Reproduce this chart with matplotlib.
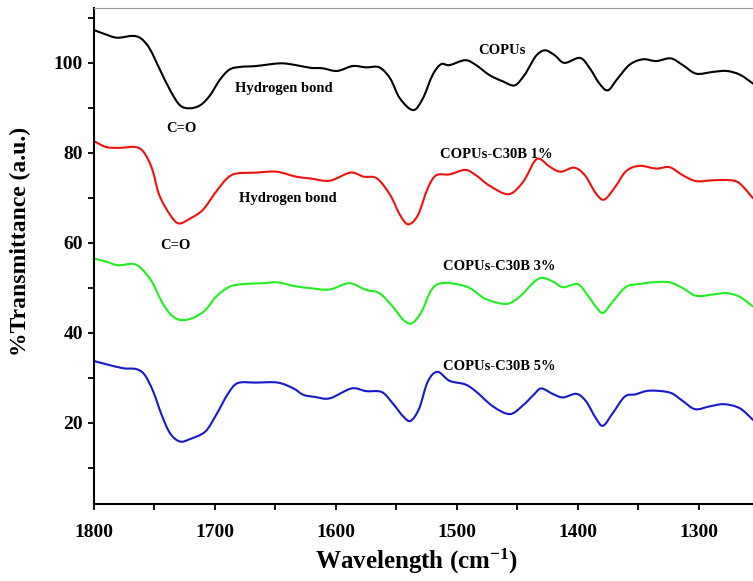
# FTIR spectra of COPUs and COPUs-C30B films
import numpy as np
import matplotlib
matplotlib.use("Agg")
import matplotlib.pyplot as plt
from matplotlib.path import Path
from matplotlib.patches import PathPatch
from matplotlib.ticker import MultipleLocator

plt.rcParams["font.family"] = ["Liberation Serif", "DejaVu Serif"]
plt.rcParams["font.weight"] = "bold"
plt.rcParams["mathtext.fontset"] = "custom"
plt.rcParams["mathtext.rm"] = "Liberation Serif:bold"
plt.rcParams["mathtext.it"] = "Liberation Serif:bold"
plt.rcParams["mathtext.bf"] = "Liberation Serif:bold"

# values (wavenumber cm-1, % transmittance)
wn_copus = [1800, 1792, 1781, 1768, 1761, 1754, 1746, 1737, 1729, 1721, 1712, 1704,
            1696, 1688, 1679, 1666, 1646, 1633, 1621, 1611, 1599, 1586, 1575, 1564,
            1555, 1547, 1536, 1528, 1520, 1513, 1506, 1493, 1484, 1473, 1462, 1452,
            1444, 1440, 1434, 1427, 1419, 1411, 1398, 1390, 1382, 1375, 1367, 1357,
            1346, 1335, 1323, 1313, 1302, 1288, 1277, 1266, 1255]
tr_copus = [107.3, 106.5, 105.6, 106.0, 105.4, 103.2, 98.8, 93.9, 90.6, 89.9, 90.6, 92.8,
            96.2, 98.5, 99.1, 99.3, 99.9, 99.5, 98.9, 98.8, 98.2, 99.3, 99.0, 99.0,
            96.5, 92.1, 89.5, 92.1, 97.3, 99.7, 99.5, 100.6, 99.5, 97.3, 95.9, 95.0,
            97.3, 99.1, 101.7, 102.8, 101.7, 100.0, 101.1, 98.8, 95.4, 93.9, 96.5, 99.6,
            100.8, 100.4, 101.0, 99.5, 97.6, 98.0, 98.2, 97.4, 95.4]

wn_c1 = [1800, 1790, 1779, 1766, 1759, 1752, 1746, 1737, 1730, 1721, 1710, 1700,
         1690, 1682, 1666, 1649, 1633, 1621, 1605, 1588, 1577, 1566, 1555, 1547,
         1540, 1532, 1524, 1517, 1506, 1493, 1484, 1473, 1457, 1445, 1436, 1431,
         1423, 1414, 1403, 1394, 1385, 1378, 1369, 1360, 1349, 1335, 1324, 1313,
         1302, 1288, 1274, 1266, 1255]
tr_c1 = [82.6, 81.3, 81.1, 81.3, 80.2, 76.5, 70.6, 66.2, 64.3, 65.3, 67.3, 71.0,
         74.3, 75.4, 75.6, 75.8, 74.7, 74.3, 73.8, 75.6, 74.7, 74.3, 70.6, 66.2,
         64.1, 66.2, 72.1, 75.0, 75.2, 76.2, 75.0, 72.7, 70.8, 73.6, 78.0, 78.6,
         76.9, 75.8, 76.7, 75.0, 71.0, 69.6, 72.4, 75.9, 77.1, 76.5, 76.8, 75.0,
         73.7, 73.9, 73.9, 73.2, 69.9]

wn_c3 = [1800, 1790, 1780, 1768, 1761, 1752, 1744, 1736, 1728, 1718, 1708, 1699,
         1688, 1677, 1660, 1648, 1635, 1621, 1605, 1589, 1575, 1564, 1553, 1544,
         1537, 1529, 1521, 1513, 1500, 1489, 1476, 1459, 1448, 1436, 1429, 1420,
         1412, 1400, 1392, 1385, 1379, 1371, 1360, 1349, 1338, 1324, 1313, 1302,
         1288, 1277, 1266, 1255]
tr_c3 = [56.5, 55.8, 55.0, 55.3, 54.3, 51.3, 46.9, 43.9, 42.8, 43.3, 45.0, 48.0,
         50.2, 50.8, 51.0, 51.2, 50.4, 49.9, 49.6, 51.0, 49.5, 48.8, 45.8, 42.8,
         42.1, 44.7, 49.5, 51.0, 50.8, 49.9, 47.5, 46.4, 48.0, 51.3, 52.2, 51.3,
         50.1, 50.8, 48.4, 45.8, 44.4, 46.9, 50.2, 50.8, 51.2, 51.2, 49.9, 48.2,
         48.5, 48.8, 48.0, 45.8]

wn_c5 = [1800, 1790, 1776, 1765, 1758, 1751, 1744, 1737, 1729, 1721, 1708, 1699,
         1689, 1681, 1666, 1648, 1635, 1627, 1617, 1605, 1587, 1575, 1562, 1553,
         1544, 1538, 1531, 1524, 1516, 1506, 1493, 1484, 1470, 1456, 1445, 1436,
         1430, 1420, 1412, 1401, 1393, 1385, 1379, 1371, 1361, 1352, 1341, 1324,
         1314, 1303, 1291, 1279, 1266, 1255]
tr_c5 = [33.7, 33.0, 32.1, 31.9, 30.6, 26.9, 21.7, 17.6, 15.8, 16.3, 18.0, 21.7,
         26.5, 28.8, 28.9, 28.9, 27.6, 26.2, 25.7, 25.4, 27.6, 27.0, 26.8, 24.3,
         21.3, 20.4, 23.2, 29.1, 31.3, 29.3, 28.5, 26.9, 23.6, 21.9, 23.9, 26.3,
         27.6, 26.3, 25.6, 26.4, 24.7, 21.0, 19.3, 22.1, 25.8, 26.3, 27.1, 26.7,
         25.0, 23.0, 23.6, 24.1, 23.2, 20.6]


def smooth_line(ax, x, y, color):
    # draw a smooth curve through the read points (bezier path, catmull-rom style)
    p = np.column_stack([x, y]).astype(float)
    verts = [p[0]]
    codes = [Path.MOVETO]
    n = len(p)
    for i in range(n - 1):
        p0 = p[max(i - 1, 0)]
        p3 = p[min(i + 2, n - 1)]
        c1 = p[i] + (p[i + 1] - p0) / 6
        c2 = p[i + 1] - (p3 - p[i]) / 6
        verts += [c1, c2, p[i + 1]]
        codes += [Path.CURVE4] * 3
    ax.add_patch(PathPatch(Path(verts, codes), facecolor="none",
                           edgecolor=color, lw=1.5, capstyle="round", joinstyle="round"))


fig = plt.figure(figsize=(7.53, 5.81), dpi=100)
ax = fig.add_axes([0.1248, 0.1325, 0.8752, 0.8537])

smooth_line(ax, wn_copus, tr_copus, "black")
smooth_line(ax, wn_c1, tr_c1, "#ee1111")
smooth_line(ax, wn_c3, tr_c3, "#22ee22")
smooth_line(ax, wn_c5, tr_c5, "#1818cc")

# labels on the curves
fs = 10.5
ax.text(1463, 102.7, "COPUs", fontsize=fs, ha="center", va="center", fontweight="bold")
ax.text(1467, 79.7, "COPUs-C30B 1%", fontsize=fs, ha="center", va="center", fontweight="bold")
ax.text(1464.5, 54.7, "COPUs-C30B 3%", fontsize=fs, ha="center", va="center", fontweight="bold")
ax.text(1464.5, 32.5, "COPUs-C30B 5%", fontsize=fs, ha="center", va="center", fontweight="bold")
ax.text(1643, 94.4, "Hydrogen bond", fontsize=fs, ha="center", va="center", fontweight="bold")
ax.text(1640, 69.9, "Hydrogen bond", fontsize=fs, ha="center", va="center", fontweight="bold")
ax.text(1727.5, 85.3, "C=O", fontsize=fs, ha="center", va="center", fontweight="bold")
ax.text(1733, 59.4, "C=O", fontsize=fs, ha="center", va="center", fontweight="bold")

ax.set_xlim(1800, 1255)
ax.set_ylim(1.9, 112.2)
ax.xaxis.set_major_locator(MultipleLocator(100))
ax.xaxis.set_minor_locator(MultipleLocator(50))
ax.yaxis.set_major_locator(MultipleLocator(20))
ax.yaxis.set_minor_locator(MultipleLocator(10))
ax.set_yticks([20, 40, 60, 80, 100])
ax.tick_params(which="both", direction="out", length=4.5, width=1.3, labelsize=14)
ax.tick_params(axis="x", pad=10)
for lab in ax.get_xticklabels() + ax.get_yticklabels():
    lab.set_fontweight("bold")

ax.spines["right"].set_visible(False)
ax.spines["top"].set_color("#999999")
ax.spines["top"].set_linewidth(0.8)
ax.spines["left"].set_linewidth(1.5)
ax.spines["bottom"].set_linewidth(1.5)

ax.set_xlabel(r"Wavelength (cm$^{-1}$)", fontsize=18, fontweight="bold")
ax.xaxis.set_label_coords(0.49, -0.115)
ax.xaxis.label.set_va("center")
ax.set_ylabel("%Transmittance (a.u.)", fontsize=17, fontweight="bold")
ax.yaxis.set_label_coords(-0.112, 0.53)
ax.yaxis.label.set_va("center")

fig.savefig("out.png", dpi=100)
